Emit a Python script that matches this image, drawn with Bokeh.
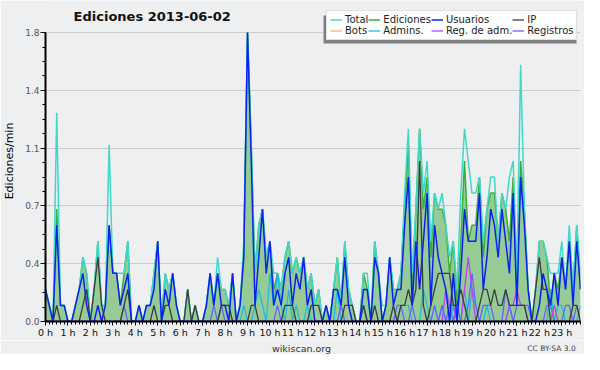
from bokeh.plotting import figure
from bokeh.layouts import column
from bokeh.models import (Range1d, FixedTicker, CustomJSTickFormatter, Label,
                          Legend, LegendItem, ColumnDataSource, BoxAnnotation)
from bokeh.embed import file_html
from bokeh.resources import INLINE

# minutes of the day (10-minute bins)
minutes = list(range(0, 1440, 10))
hour_ticks = list(range(24))

total = [
    0.2, 0.1, 0.0, 1.3, 0.1, 0.1,
    0.0, 0.0, 0.1, 0.2, 0.4, 0.3,
    0.0, 0.2, 0.5, 0.1, 0.1, 1.1,
    0.3, 0.3, 0.3, 0.3, 0.5, 0.0,
    0.0, 0.1, 0.0, 0.1, 0.1, 0.3,
    0.5, 0.0, 0.3, 0.2, 0.3, 0.1,
    0.0, 0.0, 0.2, 0.0, 0.1, 0.0,
    0.0, 0.1, 0.3, 0.1, 0.4, 0.2,
    0.2, 0.1, 0.3, 0.0, 0.1, 0.5,
    1.8, 1.1, 0.3, 0.6, 0.7, 0.4,
    0.5, 0.3, 0.3, 0.2, 0.4, 0.5,
    0.3, 0.4, 0.3, 0.4, 0.2, 0.3,
    0.1, 0.2, 0.0, 0.1, 0.0, 0.2,
    0.4, 0.1, 0.5, 0.2, 0.1, 0.0,
    0.0, 0.3, 0.3, 0.0, 0.5, 0.3,
    0.1, 0.1, 0.4, 0.2, 0.2, 0.3,
    0.8, 1.2, 0.3, 0.7, 1.2, 0.8,
    1.0, 0.5, 0.8, 0.7, 0.8, 0.6,
    0.4, 0.5, 0.2, 0.8, 1.2, 1.0,
    0.8, 0.8, 0.9, 0.5, 0.7, 0.9,
    0.9, 0.5, 0.8, 0.7, 0.9, 1.0,
    0.3, 1.6, 0.7, 0.2, 0.0, 0.2,
    0.5, 0.5, 0.4, 0.3, 0.3, 0.3,
    0.5, 0.2, 0.6, 0.2, 0.6, 0.3,
]

ediciones = [
    0.2, 0.1, 0.0, 0.7, 0.1, 0.1,
    0.0, 0.0, 0.1, 0.2, 0.4, 0.3,
    0.0, 0.2, 0.5, 0.1, 0.1, 0.6,
    0.3, 0.3, 0.1, 0.3, 0.5, 0.0,
    0.0, 0.1, 0.0, 0.1, 0.1, 0.3,
    0.5, 0.0, 0.3, 0.2, 0.3, 0.1,
    0.0, 0.0, 0.2, 0.0, 0.1, 0.0,
    0.0, 0.1, 0.3, 0.1, 0.3, 0.2,
    0.2, 0.1, 0.3, 0.0, 0.1, 0.4,
    1.8, 1.1, 0.3, 0.6, 0.7, 0.4,
    0.5, 0.2, 0.3, 0.2, 0.4, 0.5,
    0.3, 0.4, 0.3, 0.4, 0.2, 0.3,
    0.1, 0.2, 0.0, 0.1, 0.0, 0.2,
    0.4, 0.1, 0.5, 0.2, 0.1, 0.0,
    0.0, 0.3, 0.2, 0.0, 0.5, 0.3,
    0.0, 0.1, 0.4, 0.2, 0.2, 0.3,
    0.7, 1.1, 0.2, 0.7, 1.2, 0.7,
    0.9, 0.4, 0.8, 0.7, 0.7, 0.6,
    0.3, 0.5, 0.1, 0.5, 1.0, 0.5,
    0.6, 0.6, 0.9, 0.4, 0.7, 0.8,
    0.8, 0.5, 0.8, 0.7, 0.5, 0.9,
    0.2, 1.0, 0.7, 0.2, 0.0, 0.2,
    0.5, 0.5, 0.4, 0.1, 0.3, 0.2,
    0.4, 0.2, 0.5, 0.2, 0.6, 0.2,
]

usuarios = [
    0.2, 0.1, 0.0, 0.6, 0.1, 0.1,
    0.0, 0.0, 0.1, 0.2, 0.3, 0.1,
    0.0, 0.0, 0.1, 0.0, 0.1, 0.6,
    0.3, 0.3, 0.1, 0.2, 0.3, 0.0,
    0.0, 0.1, 0.0, 0.1, 0.1, 0.2,
    0.5, 0.0, 0.2, 0.1, 0.3, 0.1,
    0.0, 0.0, 0.0, 0.0, 0.0, 0.0,
    0.0, 0.1, 0.3, 0.1, 0.3, 0.1,
    0.1, 0.0, 0.3, 0.0, 0.1, 0.4,
    1.8, 1.0, 0.1, 0.4, 0.7, 0.3,
    0.5, 0.1, 0.2, 0.1, 0.3, 0.4,
    0.1, 0.3, 0.2, 0.4, 0.1, 0.2,
    0.0, 0.0, 0.0, 0.1, 0.0, 0.2,
    0.2, 0.1, 0.4, 0.1, 0.0, 0.0,
    0.0, 0.2, 0.2, 0.0, 0.4, 0.3,
    0.0, 0.1, 0.4, 0.1, 0.2, 0.2,
    0.6, 0.9, 0.1, 0.5, 0.2, 0.5,
    0.8, 0.1, 0.6, 0.4, 0.3, 0.2,
    0.0, 0.3, 0.0, 0.3, 0.7, 0.5,
    0.5, 0.5, 0.8, 0.2, 0.4, 0.7,
    0.6, 0.4, 0.7, 0.5, 0.3, 0.8,
    0.1, 0.9, 0.6, 0.2, 0.0, 0.0,
    0.1, 0.3, 0.2, 0.1, 0.3, 0.1,
    0.4, 0.2, 0.5, 0.1, 0.5, 0.2,
]

ip = [
    0.0, 0.0, 0.0, 0.1, 0.0, 0.0,
    0.0, 0.0, 0.0, 0.0, 0.1, 0.2,
    0.0, 0.2, 0.4, 0.1, 0.0, 0.0,
    0.0, 0.0, 0.0, 0.1, 0.2, 0.0,
    0.0, 0.0, 0.0, 0.0, 0.0, 0.1,
    0.0, 0.0, 0.1, 0.1, 0.0, 0.0,
    0.0, 0.0, 0.2, 0.0, 0.1, 0.0,
    0.0, 0.0, 0.0, 0.0, 0.0, 0.1,
    0.1, 0.1, 0.0, 0.0, 0.0, 0.0,
    0.0, 0.1, 0.1, 0.0, 0.0, 0.0,
    0.0, 0.0, 0.0, 0.0, 0.1, 0.1,
    0.1, 0.0, 0.0, 0.0, 0.0, 0.1,
    0.1, 0.1, 0.0, 0.0, 0.0, 0.0,
    0.0, 0.0, 0.1, 0.1, 0.1, 0.0,
    0.0, 0.1, 0.0, 0.0, 0.1, 0.0,
    0.0, 0.0, 0.0, 0.1, 0.0, 0.1,
    0.1, 0.2, 0.1, 0.2, 1.0, 0.1,
    0.0, 0.1, 0.2, 0.3, 0.3, 0.3,
    0.3, 0.1, 0.1, 0.2, 0.1, 0.0,
    0.0, 0.0, 0.1, 0.2, 0.2, 0.1,
    0.2, 0.1, 0.1, 0.2, 0.1, 0.1,
    0.1, 0.1, 0.1, 0.0, 0.0, 0.2,
    0.4, 0.2, 0.2, 0.0, 0.0, 0.0,
    0.0, 0.0, 0.0, 0.1, 0.1, 0.0,
]

bots = [
    0.0, 0.0, 0.0, 0.0, 0.0, 0.0,  0.0, 0.0, 0.0, 0.0, 0.0, 0.0,
    0.0, 0.0, 0.0, 0.0, 0.0, 0.0,  0.0, 0.0, 0.0, 0.0, 0.0, 0.0,
    0.0, 0.0, 0.0, 0.0, 0.0, 0.0,  0.0, 0.0, 0.0, 0.0, 0.0, 0.0,
    0.0, 0.0, 0.0, 0.0, 0.0, 0.0,  0.0, 0.0, 0.0, 0.0, 0.0, 0.0,
    0.0, 0.0, 0.0, 0.0, 0.0, 0.0,  0.0, 0.0, 0.0, 0.0, 0.0, 0.0,
    0.0, 0.0, 0.0, 0.0, 0.0, 0.0,  0.0, 0.0, 0.0, 0.0, 0.0, 0.0,
    0.0, 0.0, 0.0, 0.0, 0.0, 0.0,  0.0, 0.0, 0.0, 0.0, 0.0, 0.0,
    0.0, 0.0, 0.0, 0.0, 0.0, 0.0,  0.0, 0.0, 0.0, 0.0, 0.0, 0.0,
    0.0, 0.0, 0.0, 0.0, 0.0, 0.0,  0.0, 0.0, 0.0, 0.0, 0.0, 0.0,
    0.0, 0.0, 0.0, 0.0, 0.0, 0.0,  0.0, 0.0, 0.0, 0.0, 0.0, 0.0,
    0.0, 0.0, 0.0, 0.0, 0.0, 0.0,  0.0, 0.0, 0.0, 0.0, 0.0, 0.0,
    0.0, 0.0, 0.0, 0.0, 0.0, 0.0,  0.0, 0.0, 0.0, 0.0, 0.0, 0.0,
]

admins = [
    0.0, 0.0, 0.0, 0.0, 0.0, 0.0,
    0.0, 0.0, 0.0, 0.0, 0.0, 0.0,
    0.0, 0.0, 0.0, 0.0, 0.0, 0.0,
    0.0, 0.0, 0.0, 0.0, 0.0, 0.0,
    0.0, 0.0, 0.0, 0.0, 0.0, 0.0,
    0.0, 0.0, 0.0, 0.0, 0.0, 0.0,
    0.0, 0.0, 0.0, 0.0, 0.0, 0.0,
    0.0, 0.0, 0.0, 0.0, 0.0, 0.0,
    0.0, 0.0, 0.0, 0.0, 0.0, 0.1,
    0.0, 0.0, 0.1, 0.2, 0.1, 0.0,
    0.3, 0.1, 0.3, 0.1, 0.0, 0.2,
    0.0, 0.1, 0.0, 0.0, 0.1, 0.0,
    0.0, 0.0, 0.0, 0.0, 0.0, 0.0,
    0.2, 0.0, 0.0, 0.0, 0.0, 0.0,
    0.0, 0.1, 0.0, 0.0, 0.0, 0.0,
    0.0, 0.0, 0.0, 0.0, 0.0, 0.1,
    0.1, 0.1, 0.0, 0.0, 0.0, 0.2,
    0.1, 0.0, 0.0, 0.0, 0.1, 0.0,
    0.0, 0.1, 0.0, 0.0, 0.2, 0.0,
    0.2, 0.1, 0.0, 0.0, 0.1, 0.0,
    0.0, 0.0, 0.0, 0.0, 0.1, 0.0,
    0.0, 0.0, 0.0, 0.0, 0.0, 0.0,
    0.0, 0.0, 0.0, 0.2, 0.0, 0.1,
    0.1, 0.0, 0.0, 0.0, 0.0, 0.1,
]

reg_adm = [
    0.0, 0.0, 0.0, 0.0, 0.0, 0.0,
    0.0, 0.0, 0.0, 0.0, 0.0, 0.0,
    0.0, 0.0, 0.0, 0.0, 0.0, 0.0,
    0.0, 0.0, 0.0, 0.0, 0.0, 0.0,
    0.0, 0.0, 0.0, 0.0, 0.0, 0.0,
    0.0, 0.0, 0.0, 0.0, 0.0, 0.0,
    0.0, 0.0, 0.0, 0.0, 0.0, 0.0,
    0.0, 0.0, 0.0, 0.0, 0.0, 0.0,
    0.0, 0.0, 0.0, 0.0, 0.0, 0.0,
    0.0, 0.0, 0.0, 0.0, 0.0, 0.0,
    0.0, 0.0, 0.0, 0.0, 0.0, 0.0,
    0.0, 0.0, 0.0, 0.0, 0.0, 0.0,
    0.0, 0.0, 0.0, 0.0, 0.0, 0.0,
    0.0, 0.0, 0.0, 0.0, 0.0, 0.0,
    0.0, 0.0, 0.0, 0.0, 0.0, 0.0,
    0.0, 0.0, 0.0, 0.0, 0.0, 0.0,
    0.0, 0.0, 0.0, 0.0, 0.0, 0.0,
    0.0, 0.0, 0.0, 0.0, 0.0, 0.2,
    0.1, 0.1, 0.0, 0.0, 0.2, 0.4,
    0.2, 0.0, 0.0, 0.0, 0.0, 0.0,
    0.0, 0.0, 0.0, 0.0, 0.1, 0.1,
    0.2, 0.1, 0.1, 0.0, 0.0, 0.0,
    0.0, 0.0, 0.0, 0.0, 0.1, 0.0,
    0.0, 0.0, 0.0, 0.0, 0.0, 0.0,
]

registros = [
    0.0, 0.0, 0.0, 0.0, 0.0, 0.0,
    0.0, 0.0, 0.0, 0.0, 0.0, 0.0,
    0.0, 0.0, 0.0, 0.0, 0.0, 0.0,
    0.0, 0.0, 0.0, 0.1, 0.0, 0.0,
    0.0, 0.0, 0.0, 0.0, 0.0, 0.0,
    0.0, 0.0, 0.0, 0.0, 0.0, 0.0,
    0.0, 0.0, 0.0, 0.0, 0.0, 0.0,
    0.0, 0.0, 0.0, 0.1, 0.0, 0.1,
    0.0, 0.0, 0.0, 0.0, 0.0, 0.0,
    0.0, 0.0, 0.0, 0.0, 0.0, 0.0,
    0.0, 0.0, 0.1, 0.0, 0.0, 0.0,
    0.0, 0.0, 0.0, 0.0, 0.0, 0.0,
    0.0, 0.0, 0.0, 0.0, 0.0, 0.0,
    0.0, 0.1, 0.0, 0.0, 0.0, 0.0,
    0.0, 0.1, 0.0, 0.0, 0.0, 0.0,
    0.0, 0.0, 0.0, 0.0, 0.1, 0.1,
    0.0, 0.0, 0.1, 0.0, 0.0, 0.0,
    0.0, 0.0, 0.1, 0.0, 0.1, 0.0,
    0.1, 0.0, 0.1, 0.0, 0.0, 0.1,
    0.3, 0.1, 0.0, 0.1, 0.1, 0.1,
    0.0, 0.0, 0.0, 0.2, 0.1, 0.0,
    0.1, 0.1, 0.1, 0.1, 0.0, 0.0,
    0.0, 0.0, 0.1, 0.1, 0.0, 0.0,
    0.0, 0.1, 0.1, 0.0, 0.1, 0.0,
]

y_ticks = [0.0, 0.36, 0.72, 1.08, 1.44, 1.8]

FONT = "DejaVu Sans"
BG = "#eeeff1"
Y_TOP = 2.0   # headroom above the 1.8 tick for the title and legend

src = ColumnDataSource(dict(
    x=[m / 60 for m in minutes], total=total, ediciones=ediciones,
    usuarios=usuarios, ip=ip, bots=bots, admins=admins,
    reg_adm=reg_adm, registros=registros,
))

p = figure(width=584, height=340, output_backend="svg", toolbar_location=None,
           title=None,
           x_range=Range1d(0, minutes[-1] / 60), y_range=Range1d(0, Y_TOP),
           min_border_left=38, min_border_right=4, min_border_top=0,
           min_border_bottom=14)
p.background_fill_color = BG
p.border_fill_color = BG
p.outline_line_color = None

# axes
p.xaxis.ticker = FixedTicker(ticks=hour_ticks, minor_ticks=[m / 60 for m in minutes])
p.xaxis.formatter = CustomJSTickFormatter(code="return tick.toFixed(0) + ' h';")
p.xaxis.axis_line_color = "black"
p.xaxis.axis_line_width = 2
p.xaxis.major_tick_out = 4
p.xaxis.major_tick_in = 0
p.xaxis.minor_tick_out = 3
p.xaxis.minor_tick_in = 0
p.xaxis.major_tick_line_color = "black"
p.xaxis.minor_tick_line_color = "black"
p.xaxis.major_label_text_font = FONT
p.xaxis.major_label_text_font_size = "9.5px"
p.xaxis.major_label_text_color = "#111111"
p.xaxis.major_label_standoff = 1

minor_y = [k * 0.09 for k in range(21)]
p.yaxis.ticker = FixedTicker(ticks=y_ticks, minor_ticks=minor_y)
p.yaxis.bounds = (y_ticks[0], y_ticks[-1])
p.yaxis.formatter = CustomJSTickFormatter(code="return tick.toFixed(1);")
p.yaxis.axis_line_color = "black"
p.yaxis.axis_line_width = 2
p.yaxis.major_tick_out = 5
p.yaxis.major_tick_in = 0
p.yaxis.minor_tick_out = 3
p.yaxis.minor_tick_in = 0
p.yaxis.major_label_text_font = FONT
p.yaxis.major_label_text_font_size = "9px"
p.yaxis.major_label_text_color = "#555555"
p.yaxis.major_label_standoff = 1
p.yaxis.axis_label = "Ediciones/min"
p.yaxis.axis_label_text_font = FONT
p.yaxis.axis_label_text_font_size = "11px"
p.yaxis.axis_label_text_font_style = "normal"
p.yaxis.axis_label_text_color = "black"
p.yaxis.axis_label_standoff = 6

p.xgrid.grid_line_color = None
p.ygrid.grid_line_color = "#cccccc"
p.ygrid.ticker = FixedTicker(ticks=y_ticks[1:])

# series
r_bots = p.line("x", "bots", source=src, line_color="#f0a030", line_width=1)
p.varea(x="x", y1=0, y2="ediciones", source=src, fill_color="#96cb96", fill_alpha=1.0)
r_edic = p.line("x", "ediciones", source=src, line_color="#3cae3c", line_width=1.5)
r_total = p.line("x", "total", source=src, line_color="#40d8c8", line_width=1.5)
r_adm = p.line("x", "admins", source=src, line_color="#20bce0", line_width=1.3)
r_reg = p.line("x", "registros", source=src, line_color="#6464ff", line_width=1.3)
r_regadm = p.line("x", "reg_adm", source=src, line_color="#c040f0", line_width=1.3)
r_ip = p.line("x", "ip", source=src, line_color="#3c3c3c", line_width=1.3)
r_us = p.line("x", "usuarios", source=src, line_color="#0a22f0", line_width=1.5)

# legend with drop shadow (screen units from the frame's bottom-left)
LEG_X, LEG_Y, LEG_W, LEG_H = 281, 281, 253, 28
shadow = BoxAnnotation(left=LEG_X - 3, right=LEG_X - 3 + LEG_W,
                       bottom=LEG_Y - 3, top=LEG_Y - 3 + LEG_H,
                       left_units="screen", right_units="screen",
                       bottom_units="screen", top_units="screen",
                       fill_color="#808080", fill_alpha=1.0, line_color=None)
p.add_layout(shadow)

legend = Legend(items=[
    LegendItem(label="Total", renderers=[r_total]),
    LegendItem(label="Ediciones", renderers=[r_edic]),
    LegendItem(label="Usuarios", renderers=[r_us]),
    LegendItem(label="IP", renderers=[r_ip]),
    LegendItem(label="Bots", renderers=[r_bots]),
    LegendItem(label="Admins.", renderers=[r_adm]),
    LegendItem(label="Reg. de adm.", renderers=[r_regadm]),
    LegendItem(label="Registros", renderers=[r_reg]),
], location=(LEG_X, LEG_Y), orientation="horizontal", ncols=4)
legend.background_fill_color = "white"
legend.background_fill_alpha = 1.0
legend.border_line_color = "#c0c0c0"
legend.border_line_width = 1
legend.label_text_font = FONT
legend.label_text_font_size = "10px"
legend.label_text_color = "#222222"
legend.glyph_width = 12
legend.glyph_height = 9
legend.label_standoff = 3
legend.label_height = 10
legend.spacing = 0
legend.padding = 3
legend.margin = 0
legend.label_text_line_height = 1.0
p.add_layout(legend, "center")

# title
p.add_layout(Label(x=109, y=305, x_units="screen", y_units="screen",
                   text="Ediciones  2013-06-02", text_font=FONT,
                   text_font_size="13px", text_font_style="bold",
                   text_align="center", text_baseline="middle", text_color="#111111"))

# footer strip (its frame is aligned with the main frame by the column layout)
f = figure(width=584, height=14, output_backend="svg", toolbar_location=None,
           title=None, x_axis_type=None, y_axis_type=None,
           x_range=Range1d(0, 584), y_range=Range1d(0, 14),
           min_border_left=0, min_border_right=0, min_border_top=0,
           min_border_bottom=0)
f.background_fill_color = BG
f.border_fill_color = BG
f.outline_line_color = None
f.grid.visible = False
f.add_layout(Label(x=256, y=6, x_units="screen", y_units="screen",
                   text="wikiscan.org", text_font=FONT, text_font_size="9.5px",
                   text_align="center", text_baseline="middle", text_color="#333333"))
f.add_layout(Label(x=506, y=6, x_units="screen", y_units="screen",
                   text="CC BY-SA 3.0", text_font=FONT, text_font_size="7.5px",
                   text_align="center", text_baseline="middle", text_color="#444444"))

layout = column(p, f, spacing=0)
open("out.html", "w").write(file_html(layout, INLINE))
